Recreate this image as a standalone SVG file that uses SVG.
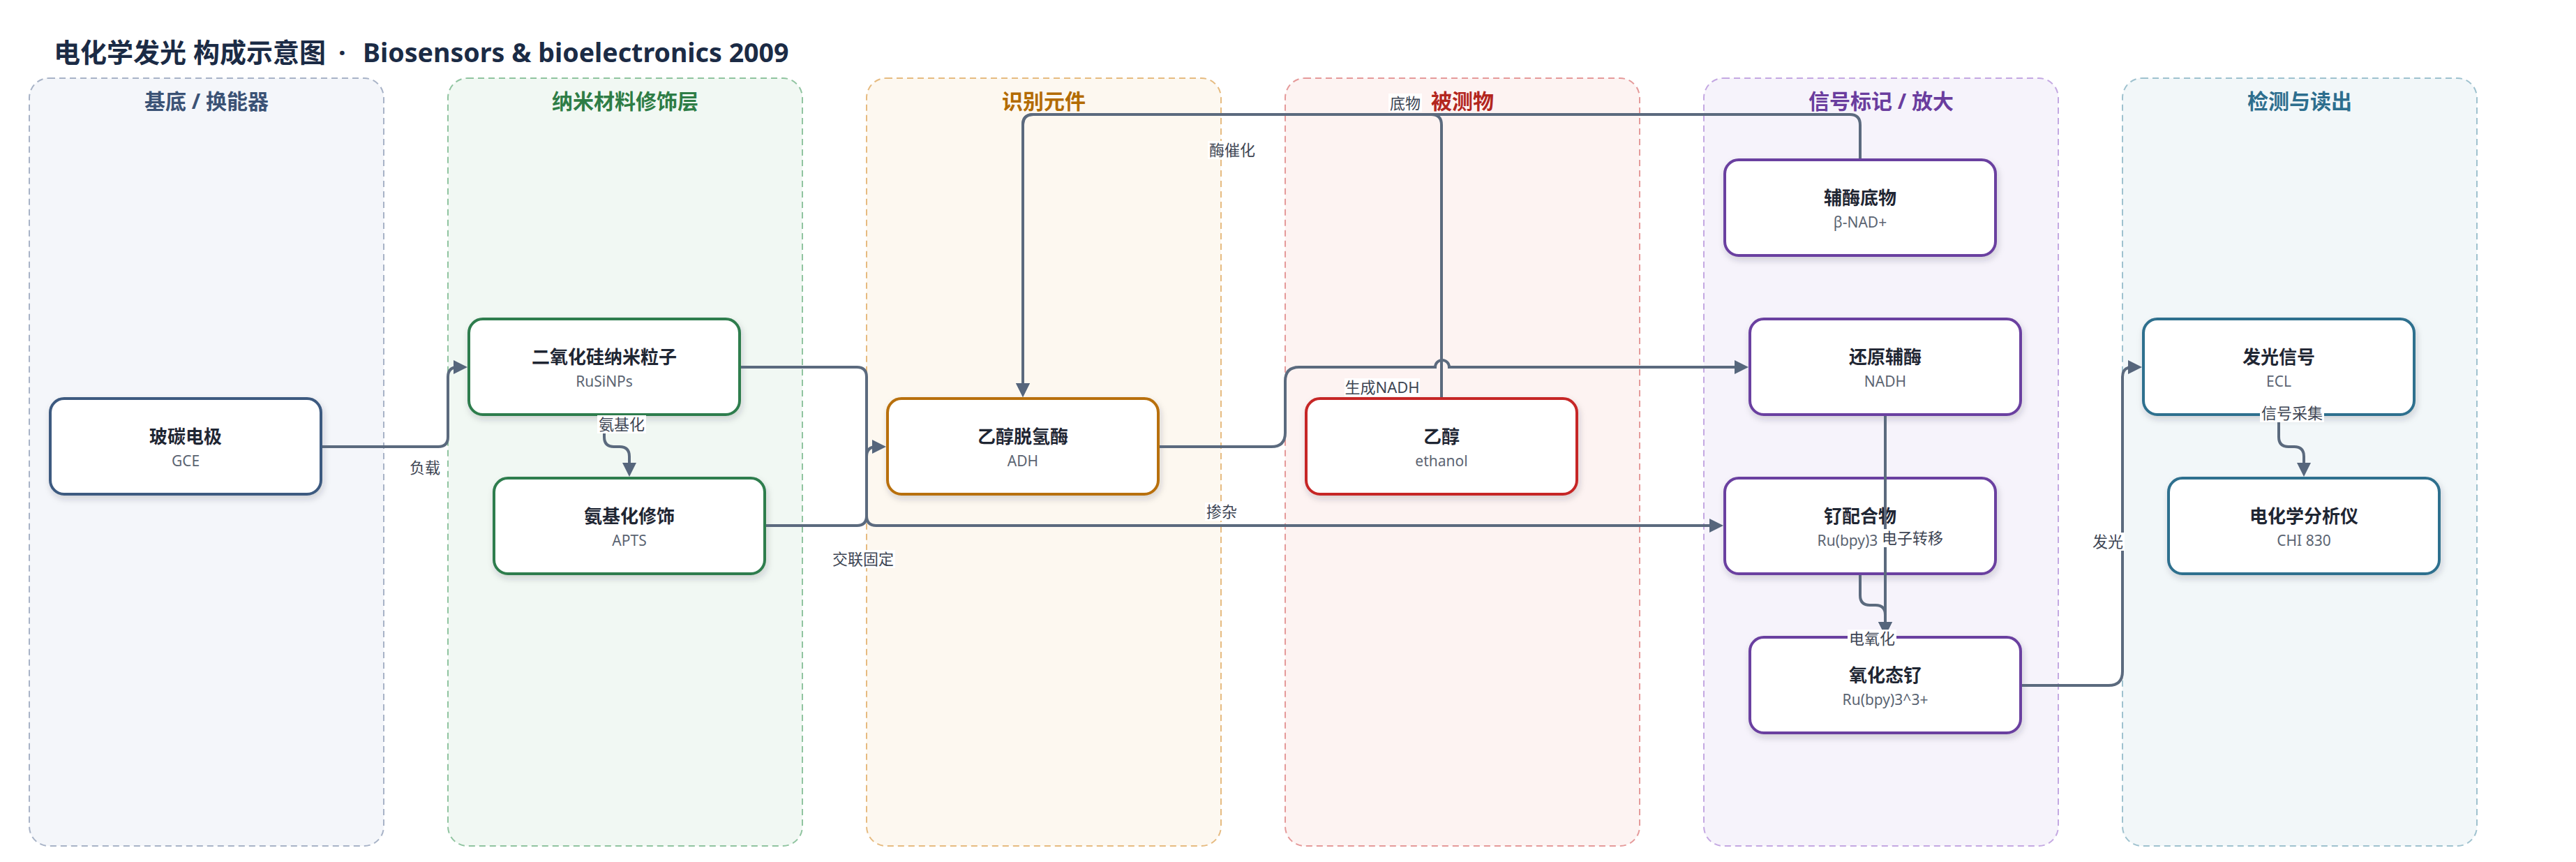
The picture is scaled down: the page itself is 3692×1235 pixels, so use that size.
<svg xmlns="http://www.w3.org/2000/svg" width="3692" height="1235" viewBox="0 0 3692 1235">
<style>
text{font-family:"Noto Sans","Noto Sans CJK SC",sans-serif}
.ttl{font-size:38px;font-weight:700;fill:#1b2b45}
.lane{stroke-width:2;stroke-dasharray:9 6}
.lt{font-size:30px;font-weight:700;text-anchor:middle}
.node{fill:#fff;stroke-width:4;filter:url(#sh)}
.nt{font-size:26px;font-weight:700;fill:#1f2633;text-anchor:middle}
.ns{font-size:21px;fill:#5b6472;text-anchor:middle}
.edge{fill:none;stroke:#5b6a7e;stroke-width:4}
.arr{marker-end:url(#ah)}
.lb{font-size:22px;fill:#3d4553;text-anchor:middle}
.lbg{fill:#fff}
</style>
<defs>
<filter id="sh" x="-10%" y="-15%" width="125%" height="140%">
<feDropShadow dx="2" dy="5" stdDeviation="5" flood-color="#1e293b" flood-opacity="0.18"/>
</filter>
<marker id="ah" markerUnits="userSpaceOnUse" markerWidth="20" markerHeight="20" refX="10" refY="10" orient="auto">
<path d="M0,0 L20,10 L0,20 z" fill="#56667c"/>
</marker>
</defs>
<rect width="3692" height="1235" fill="#fff"/>
<text class="ttl" x="77" y="89">电化学发光 构成示意图<tspan x="485">·</tspan><tspan x="520" font-size="37.6">Biosensors &amp; bioelectronics 2009</tspan></text>

<g id="lanes">
<g id="lane-substrate"><rect class="lane" x="42" y="112" width="508" height="1100" rx="28" fill="#f4f6fa" stroke="#a8b3c7"/><text class="lt" x="296" y="156" fill="#3b5275">基底 / 换能器</text></g>
<g id="lane-nano"><rect class="lane" x="642" y="112" width="508" height="1100" rx="28" fill="#f1f8f3" stroke="#90c4a0"/><text class="lt" x="896" y="156" fill="#2e7d46">纳米材料修饰层</text></g>
<g id="lane-recog"><rect class="lane" x="1242" y="112" width="508" height="1100" rx="28" fill="#fdf8f0" stroke="#e6bb80"/><text class="lt" x="1496" y="156" fill="#b36b00">识别元件</text></g>
<g id="lane-analyte"><rect class="lane" x="1842" y="112" width="508" height="1100" rx="28" fill="#fdf3f2" stroke="#e59a9a"/><text class="lt" x="2096" y="156" fill="#b3261e">被测物</text></g>
<g id="lane-signal"><rect class="lane" x="2442" y="112" width="508" height="1100" rx="28" fill="#f6f3fb" stroke="#c4a8e2"/><text class="lt" x="2696" y="156" fill="#6a3d9e">信号标记 / 放大</text></g>
<g id="lane-detect"><rect class="lane" x="3042" y="112" width="508" height="1100" rx="28" fill="#f2f7f9" stroke="#9fc2cf"/><text class="lt" x="3296" y="156" fill="#2d6e8e">检测与读出</text></g>
</g>

<g id="nodes">
<g id="n-gce"><rect class="node" x="72" y="571" width="388" height="137" rx="20" stroke="#3d5a80"/><text class="nt" x="266" y="635">玻碳电极</text><text class="ns" x="266" y="668">GCE</text></g>
<g id="n-rusinps"><rect class="node" x="672" y="457" width="388" height="137" rx="20" stroke="#2e7d4e"/><text class="nt" x="866" y="521">二氧化硅纳米粒子</text><text class="ns" x="866" y="554">RuSiNPs</text></g>
<g id="n-apts"><rect class="node" x="708" y="685" width="388" height="137" rx="20" stroke="#2e7d4e"/><text class="nt" x="902" y="749">氨基化修饰</text><text class="ns" x="902" y="782">APTS</text></g>
<g id="n-adh"><rect class="node" x="1272" y="571" width="388" height="137" rx="20" stroke="#b8700a"/><text class="nt" x="1466" y="635">乙醇脱氢酶</text><text class="ns" x="1466" y="668">ADH</text></g>
<g id="n-ethanol"><rect class="node" x="1872" y="571" width="388" height="137" rx="20" stroke="#c62828"/><text class="nt" x="2066" y="635">乙醇</text><text class="ns" x="2066" y="668">ethanol</text></g>
<g id="n-nad"><rect class="node" x="2472" y="229" width="388" height="137" rx="20" stroke="#6b3fa0"/><text class="nt" x="2666" y="293">辅酶底物</text><text class="ns" x="2666" y="326">β-NAD+</text></g>
<g id="n-nadh"><rect class="node" x="2508" y="457" width="388" height="137" rx="20" stroke="#6b3fa0"/><text class="nt" x="2702" y="521">还原辅酶</text><text class="ns" x="2702" y="554">NADH</text></g>
<g id="n-ru"><rect class="node" x="2472" y="685" width="388" height="137" rx="20" stroke="#6b3fa0"/><text class="nt" x="2666" y="749">钌配合物</text><text class="ns" x="2648" y="782">Ru(bpy)3</text></g>
<g id="n-ru3"><rect class="node" x="2508" y="913" width="388" height="137" rx="20" stroke="#6b3fa0"/><text class="nt" x="2702" y="977">氧化态钌</text><text class="ns" x="2702" y="1010">Ru(bpy)3^3+</text></g>
<g id="n-ecl"><rect class="node" x="3072" y="457" width="388" height="137" rx="20" stroke="#2e6f8e"/><text class="nt" x="3266" y="521">发光信号</text><text class="ns" x="3266" y="554">ECL</text></g>
<g id="n-chi"><rect class="node" x="3108" y="685" width="388" height="137" rx="20" stroke="#2e6f8e"/><text class="nt" x="3302" y="749">电化学分析仪</text><text class="ns" x="3302" y="782">CHI 830</text></g>
</g>

<g id="connectors">
<path class="edge arr" d="M462,640 H628 Q642,640 642,626 V540 Q642,526 656,526 L660,526"/>
<path class="edge arr" d="M866,596 V626 Q866,640 880,640 H888 Q902,640 902,654 V673"/>
<path class="edge arr" d="M1098,753 H1228 Q1242,753 1242,739 V654 Q1242,640 1256,640 L1260,640"/>
<path class="edge arr" d="M1062,526 H1228 Q1242,526 1242,540 V739 Q1242,753 1256,753 H2460"/>
<path class="edge arr" d="M1662,640 H1822 Q1842,640 1842,620 V546 Q1842,526 1862,526 H2057 A10,10 0 0 1 2077,526 H2496"/>
<path class="edge arr" d="M2066,569 V179 Q2066,164 2051,164 H1481 Q1466,164 1466,179 V559"/>
<path class="edge arr" d="M2666,227 V179 Q2666,164 2651,164 H1481 Q1466,164 1466,179 V559"/>
<path class="edge arr" d="M2702,596 V901"/>
<path class="edge arr" d="M2666,824 V853 Q2666,867 2680,867 H2688 Q2702,867 2702,881 V901"/>
<path class="edge arr" d="M2898,982 H3022 Q3042,982 3042,962 V540 Q3042,526 3056,526 L3060,526"/>
<path class="edge arr" d="M3266,596 V626 Q3266,640 3280,640 H3288 Q3302,640 3302,654 V673"/>
</g>

<g id="edge-labels">
<rect class="lbg" x="585" y="657" width="48" height="26"/><text class="lb" x="609" y="678">负载</text>
<rect class="lbg" x="856" y="595" width="70" height="26"/><text class="lb" x="891" y="616">氨基化</text>
<rect class="lbg" x="1191" y="788" width="92" height="26"/><text class="lb" x="1237" y="809">交联固定</text>
<rect class="lbg" x="1727" y="720" width="48" height="26"/><text class="lb" x="1751" y="741">掺杂</text>
<rect class="lbg" x="1927" y="542" width="108" height="26"/><text class="lb" x="1981" y="563">生成NADH</text>
<rect class="lbg" x="1990" y="134" width="48" height="26"/><text class="lb" x="2014" y="156">底物</text>
<rect class="lbg" x="1731" y="202" width="70" height="26"/><text class="lb" x="1766" y="223">酶催化</text>
<rect class="lbg" x="2697" y="758" width="88" height="26"/><text class="lb" x="2741" y="779">电子转移</text>
<rect class="lbg" x="2648" y="902" width="70" height="26"/><text class="lb" x="2683" y="923">电氧化</text>
<rect class="lbg" x="2997" y="763" width="48" height="26"/><text class="lb" x="3021" y="784">发光</text>
<rect class="lbg" x="3239" y="579" width="92" height="26"/><text class="lb" x="3285" y="600">信号采集</text>
</g>
</svg>
